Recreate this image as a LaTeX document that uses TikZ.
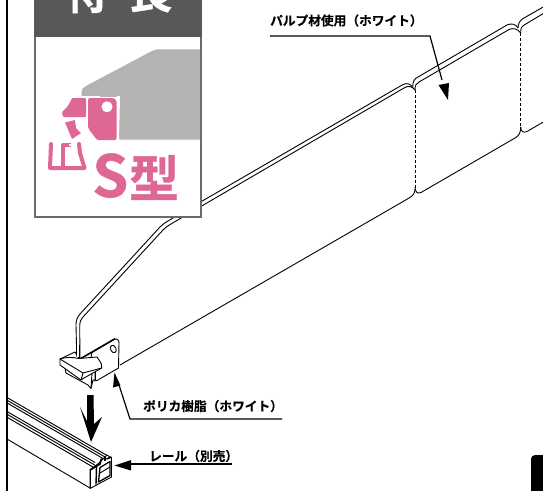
\documentclass[tikz,border=0pt]{standalone}
\usepackage{fontspec}
\setmainfont{Noto Sans CJK JP}[BoldFont={Noto Sans CJK JP Bold}]
\newfontfamily\cjkbold[FakeBold=0.15]{Noto Sans CJK JP Bold}
\newfontfamily\cjkheavy[FakeBold=0.7]{Noto Sans CJK JP Bold}
\definecolor{hdr}{HTML}{595757}
\definecolor{frm}{HTML}{6A6A6A}
\definecolor{pnk}{HTML}{DF6796}
\definecolor{gry}{HTML}{B3B3B3}
\tikzset{
  edge/.style={draw=black,line width=0.9pt,line join=round},
  fold/.style={draw=black,line width=0.8pt,densely dashed},
  leader/.style={draw=black,line width=1.2pt},
  tip/.style={fill=black,draw=none},
  lbl/.style={font=\cjkbold\fontsize{12.7}{14}\selectfont,inner sep=0pt,anchor=west},
  pinkfill/.style={fill=pnk,draw=none},
}
\begin{document}
\begin{tikzpicture}[x=1pt,y=-1pt]
\useasboundingbox (0,0) rectangle (543,490);
\begin{scope}
\clip (0,0) rectangle (543,490);
% corner tab
\fill[black,rounded corners=4pt] (531,500) -- (531,455) -- (550,455) -- (550,500) -- cycle;

% shelf plate panels
\draw[edge] (120,365) -- (410,197.5) .. controls (413,195.5) and (415,193) .. (415,189);
\draw[edge] (415,187) .. controls (415,191) and (417,194.5) .. (421,192.5) -- (515,138) .. controls (519,135.5) and (520.7,133) .. (520.7,127);
\draw[edge] (520.7,127) .. controls (520.7,131) and (523,133.5) .. (527,131.5) -- (545,121);
\draw[fold] (415,90) -- (415,188);
\draw[fold] (520.7,33) -- (520.7,128);
% upper rail, panel 1
\draw[edge] (173,218) -- (403,84.5) .. controls (407,82.5) and (411,84) .. (413,88);
\draw[edge] (176,221) -- (404,88) .. controls (408,85.5) and (412,86) .. (415,90);
% upper rail, panel 2
\draw[edge] (412.7,87) .. controls (413,81) and (414,79) .. (418,77) -- (507,25) .. controls (511,23) and (516,24) .. (518,28);
\draw[edge] (415,90) .. controls (415,85) and (416,84) .. (419,82) -- (509,29.5) .. controls (513,27.5) and (518,29) .. (520.7,33);
% upper rail, panel 3
\draw[edge] (518,28) .. controls (518,23) and (520,20.5) .. (524,18) -- (545,6);
\draw[edge] (520.7,33) .. controls (520.7,28) and (521,27) .. (525,24.5) -- (545,12.5);
% wire
\draw[edge] (76.7,354) -- (76,325) .. controls (76,320) and (77,318) .. (80,314) -- (160,227) .. controls (164,223) and (168,221) .. (173,218);
\draw[edge] (80,361) -- (79.7,327) .. controls (79.7,322) and (80.5,320) .. (83,317) -- (163,230) .. controls (167,226) and (171,224) .. (176,221);

% bracket plate
\draw[edge,fill=white] (92,352.5) -- (114,339.5) .. controls (117,338) and (119,340) .. (119,343) -- (118.5,368) -- (97,380.5) .. controls (95,381.5) and (93,381) .. (93,379) -- (90,362) -- cycle;
\draw[line width=1.6pt] (80,359) -- (115,338.7);
\draw[edge,rotate around={25:(113.3,349)}] (113.3,349) ellipse (2.7 and 3.9);
% clip
\draw[edge,fill=white] (65,368) -- (66,373) -- (88,385) -- (91,388.5) -- (93,380) -- (95,380) -- (95,372) -- (88,368) -- cycle;
\draw[edge,fill=white] (60,359) -- (60,365) -- (81,380) -- (84,378) -- (101.7,368) -- (101,363) -- cycle;
\draw[edge,fill=white] (60,359) -- (75,352) -- (79,358.5) -- (97,357) -- (101,363) -- (101.7,368) -- (83,373) -- cycle;
\draw[edge] (83,373) -- (81,380);
\draw[edge] (60,359) .. controls (66,357) and (72,357) .. (79,358.5);
\draw[edge] (92,373) -- (91,388);
\draw[edge] (95,371) -- (95,380);
% wire foot in front of the clip
\draw[edge] (79.7,345) -- (79.7,358.5);
\draw[edge] (76.6,345) -- (76.8,356.5);
\fill[white] (77.3,345) rectangle (79.2,357);

% down arrow
\fill[black] (87,395) -- (93.5,395) -- (94,424) -- (102,417) -- (91,442) -- (80,407) -- (87,421) -- cycle;

% rail
\fill[white] (7,415) -- (92,468) -- (92,489) -- (7,438) -- cycle;
\draw[edge] (7,439) -- (90,488);
\foreach \yy in {397.5,400.2,402.9} \draw[line width=0.95pt] (7,\yy) -- ++(101,58.5);
\foreach \yy in {411.5,414.2,417.2} \draw[line width=0.95pt] (7,\yy) -- ++(88,51);
\draw[edge,fill=white] (90,470) -- (90,488.5) -- (111.5,477) -- (111.5,458) -- (107,455) -- (99,463) -- cycle;
\draw[line width=1.7pt,line join=round] (90,470) -- (100,464) -- (101.5,458.5);
\draw[line width=1.4pt] (90.5,470) -- (90.5,488);
\draw[line width=1.4pt] (96.5,467) -- (96,484.5);
\draw[line width=1.3pt,line join=round] (100,467.5) -- (110,461.5) -- (110,475.5) -- (98.5,482) -- cycle;
\draw[line width=1.6pt] (106.5,459) -- (111.5,457);
\draw[line width=1.2pt] (105,461) -- (105,456);
\draw[edge] (100,473) -- (110,467);

% left rule
\draw[line width=2pt] (7,-2) -- (7,492);

% label leaders
\coordinate (pulpL) at (270,36);
\coordinate (pulpB) at (430,36);
\coordinate (pulpT) at (448,100);
\draw[leader] (pulpL) -- (pulpB) -- (442,80);
\fill[tip] (pulpT) -- (438.5,85) -- (449,83) -- cycle;
\coordinate (polyR) at (282,419);
\coordinate (polyB) at (130,419);
\coordinate (polyT) at (114.5,372.5);
\draw[leader] (polyR) -- (polyB) -- (119,385);
\fill[tip] (polyT) -- (113,387.5) -- (120.5,385.5) -- cycle;
\coordinate (railR) at (232,464);
\coordinate (railB) at (130,464);
\coordinate (railT) at (114.5,465.5);
\draw[leader] (railR) -- (railB);
\fill[tip] (railT) -- (131,460) -- (131,470.5) -- cycle;

\node[lbl] (pulp) at (270,20.5) {パルプ材使用（ホワイト）};
\node[lbl] (poly) at (143,406) {ポリカ樹脂（ホワイト）};
\node[lbl] (rail) at (149,456) {レール（別売）};

% feature panel
\draw[frm,fill=white,line width=2pt] (35,-3) rectangle (201,216.5);
\fill[hdr] (34,-3) rectangle (202,37);
\node[font=\cjkheavy\fontsize{45}{45}\selectfont,text=white,inner sep=0pt] (ttl1) at (86,-8) {特};
\node[font=\cjkheavy\fontsize{45}{45}\selectfont,text=white,inner sep=0pt] (ttl2) at (150,-8) {長};
\fill[gry] (81.5,100) -- (81.5,92) .. controls (81.5,89) and (83,87.5) .. (86,86) -- (151,51.5) .. controls (154,50) and (156,49.3) .. (160,49.3) -- (200,49.3) -- (200,139.5) -- (118,139.5) -- (81.5,120) -- cycle;
\fill[white] (60,96) -- (120,96) -- (119,142) -- (60,142) -- cycle;
\fill[gry] (100,95) rectangle (117,96.5);
\fill[pinkfill,rounded corners=1pt] (72,98) -- (86,98) -- (86,117) -- (63,117) -- (62,112) -- (68,106) -- cycle;
\fill[pinkfill,rounded corners=1.5pt] (88,98) -- (114,98) -- (116.7,101) -- (116.7,140) -- (97,140) -- (88,128) -- cycle;
\fill[white] (107,106.8) circle (5.5);
\fill[pinkfill] (65,122.5) -- (75,120) -- (76,128) -- (81,133) -- (72,139) -- cycle;
\draw[pnk,line width=4pt,line join=round,line cap=round] (51,144) -- (50,168) -- (84.5,168) -- (80,153) -- (79,144);
\draw[pnk,line width=4pt,line join=round] (63,166) -- (63,145) -- (71,145);
\fill[white] (68.5,143.5) rectangle (70.5,145.5);
\node[text=pnk,inner sep=0pt,anchor=base west] (sg) at (92,197) {\cjkheavy\fontsize{58}{58}\selectfont S};
\node[font=\cjkheavy\fontsize{50}{50}\selectfont,text=pnk,inner sep=0pt] (kata) at (154,177.5) {型};
\end{scope}
\end{tikzpicture}
\end{document}
